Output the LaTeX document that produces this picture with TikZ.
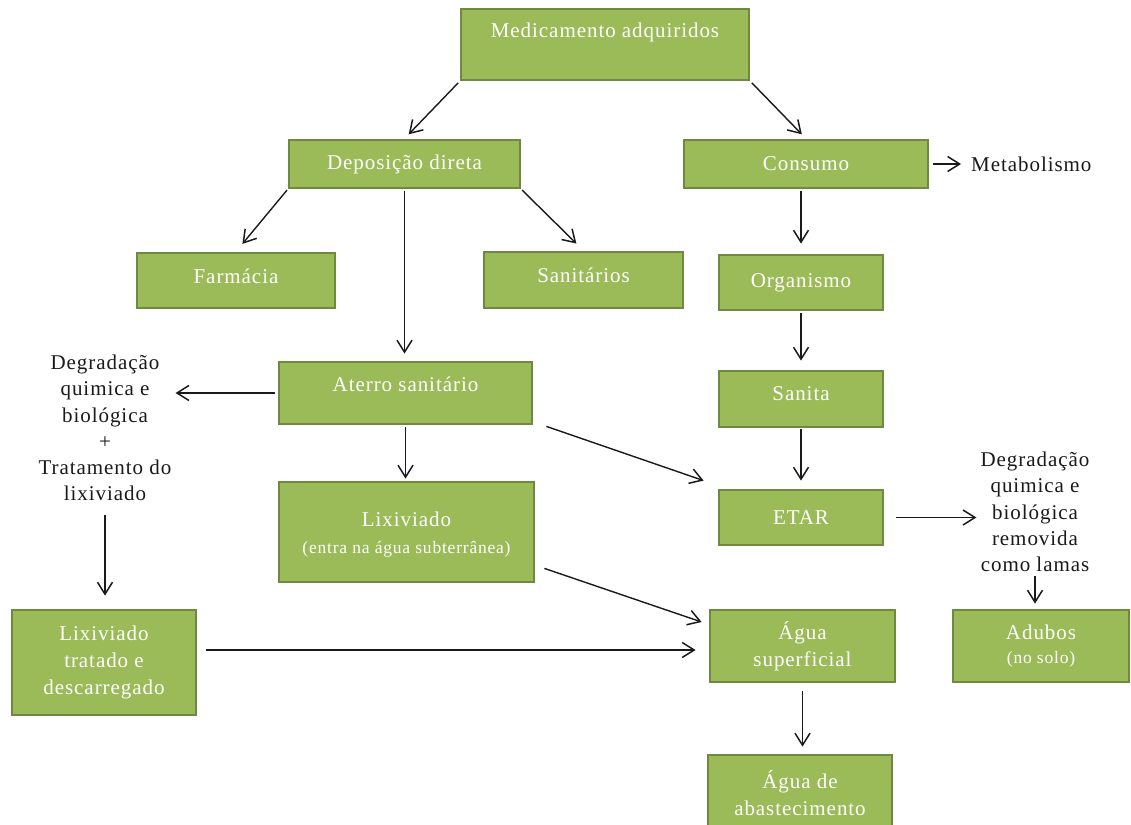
\documentclass[tikz,border=0pt]{standalone}
\usepackage{fontspec}
\setmainfont{Liberation Serif}[LetterSpace=4.5]
\usetikzlibrary{arrows.meta,calc}
\definecolor{boxfill}{HTML}{9BBB59}
\definecolor{boxline}{HTML}{6F8A3E}
\definecolor{ink}{HTML}{1A1A1A}

\begin{document}
\begin{tikzpicture}[x=1pt,y=-1pt,
  box/.style={draw=boxline, line width=2.8pt, fill=boxfill, rectangle, text=white,
    align=center, font=\fontsize{21}{27}\selectfont, inner sep=0pt},
  btext/.style={text=white, align=center, font=\fontsize{21}{27}\selectfont, inner sep=0pt},
  note/.style={text=ink, align=center, font=\fontsize{21}{26.2}\selectfont, inner sep=2pt},
  arr/.style={draw=ink, line width=1.4pt,
    -{Straight Barb[length=12pt,width=15pt,line width=1.5pt]}}
]
\useasboundingbox[fill=white] (0,0) rectangle (1131,824);

% boxes
\node[box, minimum width=288, minimum height=71] (med) at (605,44.5) {};
\node[btext] (medt) at (605,32) {Medicamento adquiridos};
\node[box, minimum width=231, minimum height=48] (dep) at (404.5,164) {Deposição direta};
\node[box, minimum width=244, minimum height=48] (cons) at (806,164) {Consumo};
\node[note, anchor=west] (metab) at (969,164) {Metabolismo};
\node[box, minimum width=198, minimum height=55] (farm) at (236,280.5) {};
\node[btext] (farmt) at (236,276) {Farmácia};
\node[box, minimum width=199, minimum height=56] (sanit) at (583.5,280) {};
\node[btext] (sanitt) at (583.5,275) {Sanitários};
\node[box, minimum width=164, minimum height=55] (org) at (801,282.5) {Organismo};
\node[box, minimum width=253, minimum height=62] (aterro) at (405.5,393) {};
\node[btext] (aterrot) at (405.5,384) {Aterro sanitário};
\node[box, minimum width=164, minimum height=56] (sanita) at (801,399) {};
\node[btext] (sanitat) at (801,394) {Sanita};
\node[box, minimum width=255, minimum height=100] (lix) at (406.5,532) {};
\node[btext] (lixt) at (406.5,535)
  {Lixiviado\\{\fontsize{17.5}{20}\selectfont (entra na água subterrânea)}};
\node[box, minimum width=164, minimum height=55] (etar) at (801,517.5) {ETAR};
\node[box, minimum width=185, minimum height=72] (agsup) at (802.5,646) {Água\\superficial};
\node[box, minimum width=176, minimum height=72] (adubos) at (1041,646)
  {Adubos\\[-3pt]{\fontsize{17.5}{20}\selectfont (no solo)}};
\node[box, minimum width=184, minimum height=105] (lixtrat) at (104,662.5)
  {Lixiviado\\tratado e\\descarregado};
\node[box, minimum width=184, minimum height=84] (agab) at (800,797) {};
\node[btext] (agabt) at (800,793) {Água de\\abastecimento};

% free texts
\node[note] (degl) at (105,428) {Degradação\\quimica e\\biológica\\+\\Tratamento do\\lixiviado};
\node[note] (degr) at (1035,512) {Degradação\\quimica e\\biológica\\removida\\como lamas};

% connectors
\draw[arr, shorten <=2pt, shorten >=6pt] (med.south west) -- (dep.north);
\draw[arr, shorten <=2pt, shorten >=6pt] (med.south east) -- (cons.north);
\draw[arr, shorten <=1pt, shorten >=10pt] (dep.south west) -- (farm.north);
\draw[arr, shorten <=1pt, shorten >=10pt] (dep.south east) -- (sanit.north);
\draw[arr, shorten <=2pt, shorten >=7pt] (dep.south) -- (dep.south |- aterro.north);
\draw[arr, shorten <=2pt, shorten >=10pt] (org.north |- cons.south) -- (org.north);
\draw[arr, shorten <=4pt, shorten >=8pt] (cons.east) -- (cons.east -| metab.west);
\draw[arr, shorten <=2pt, shorten >=9pt] (org.south) -- (sanita.north);
\draw[arr, shorten <=1pt, shorten >=8pt] (sanita.south) -- (etar.north);
\draw[arr, shorten <=3pt, shorten >=2pt] (aterro.west) -- (aterro.west -| degl.east);
\draw[arr, shorten <=2pt, shorten >=2pt] (aterro.south) -- (aterro.south |- lix.north);
\draw[arr] ($(aterro.south east)+(13,1)$) -- ($(etar.north west)+(-14,-8)$);
\draw[arr] ($(lix.south east)+(9,-15)$) -- ($(agsup.west)+(-7,-24)$);
\draw[arr, shorten <=12pt, shorten >=2pt] (etar.east) -- (etar.east -| degr.west);
\draw[arr, shorten <=2pt, shorten >=5pt] (degr.south) -- (degr.south |- adubos.north);
\draw[arr, shorten <=12pt, shorten >=13pt] (degl.south) -- (degl.south |- lixtrat.north);
\draw[arr] ($(lixtrat.east)+(9,-12.5)$) -- ($(agsup.west)+(-13,4)$);
\draw[arr, shorten <=8pt, shorten >=7pt] (agsup.south) -- (agsup.south |- agab.north);
\end{tikzpicture}
\end{document}
